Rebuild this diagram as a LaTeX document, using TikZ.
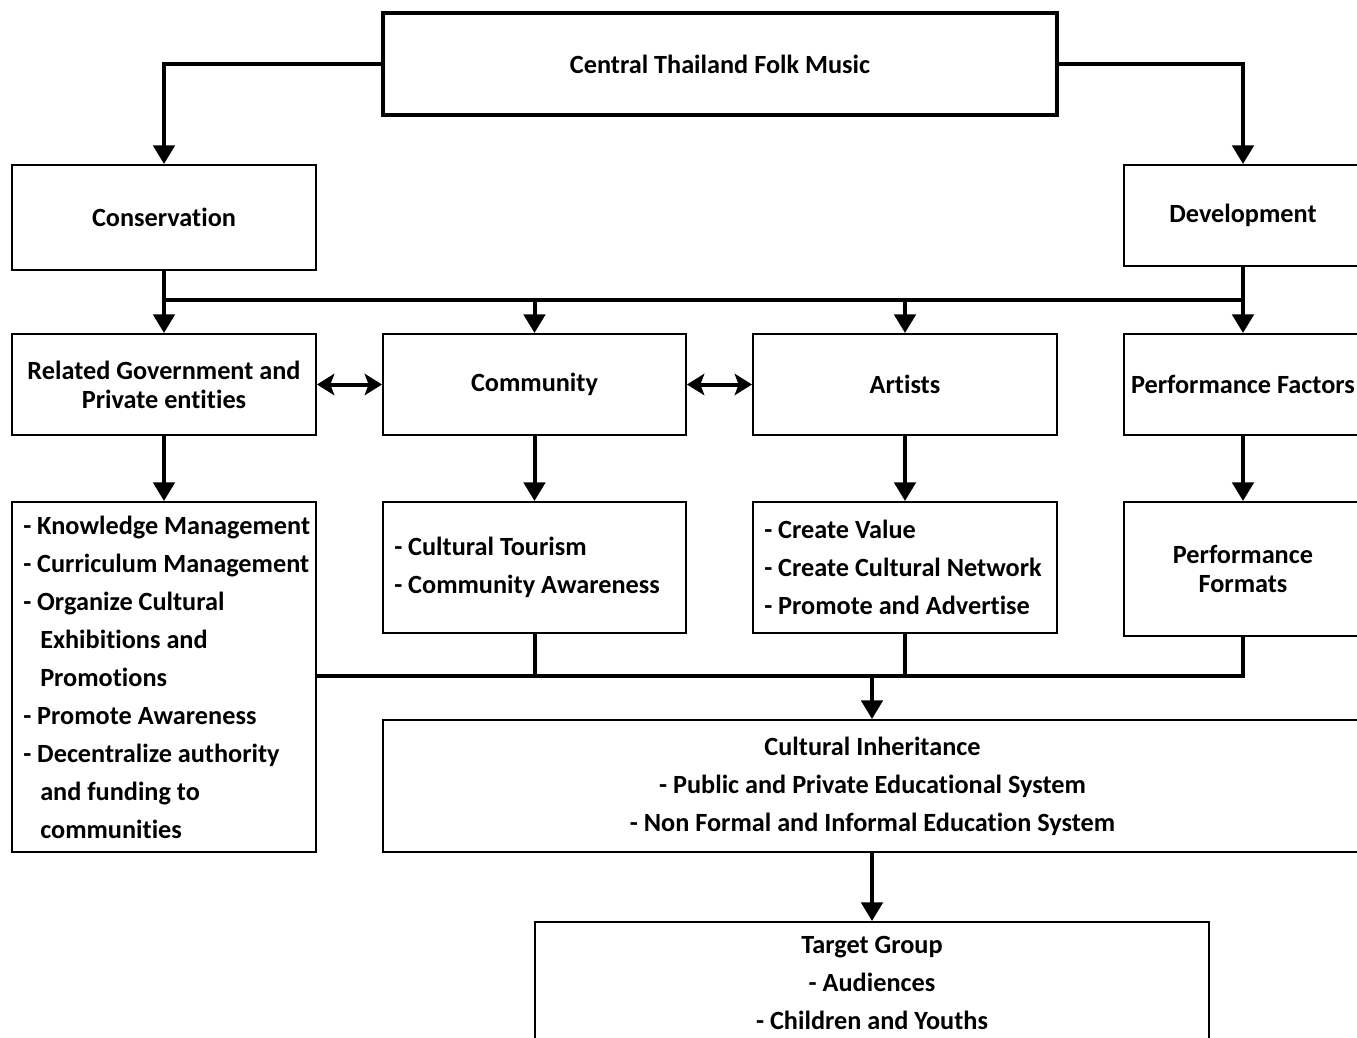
\documentclass[tikz,border=0pt]{standalone}
\usepackage{fontspec}
\setmainfont{Carlito}[Ligatures={NoCommon}]
\usetikzlibrary{arrows.meta}
\begin{document}
\begin{tikzpicture}[x=0.75pt,y=-0.75pt,
  box/.style={draw, line width=1.5pt, rectangle, inner sep=0pt, align=center,
    font=\fontsize{19.7pt}{21.75pt}\selectfont\bfseries},
  listtxt/.style={inner sep=0pt, align=left, anchor=west,
    font=\fontsize{19.7pt}{28.5pt}\selectfont\bfseries},
  ctrtxt/.style={inner sep=0pt, align=center,
    font=\fontsize{19.7pt}{28.5pt}\selectfont\bfseries},
  conn/.style={line width=3pt, line join=miter},
  arr/.style={conn, -{Triangle[width=16pt,length=14pt]}},
  darr/.style={conn, {Stealth[width=16pt,length=13pt,inset=3pt]}-{Stealth[width=16pt,length=13pt,inset=3pt]}},
]
\useasboundingbox (0,0) rectangle (1357,1038);

% boxes
\node[box, line width=3pt, minimum width=505.5pt, minimum height=76.5pt] (top) at (720,64) {Central Thailand Folk Music};
\node[box, minimum width=228pt, minimum height=78.75pt] (cons) at (164,217.5) {Conservation};
\node[box, minimum width=178.5pt, minimum height=75.75pt] (dev) at (1243,215.5) {Development};

\node[box, minimum width=228pt, minimum height=75.75pt] (gov) at (164,384.5) {Related Government and\\Private entities};
\node[box, minimum width=227.25pt, minimum height=75.75pt] (com) at (534.5,384.5) {Community};
\node[box, minimum width=228pt, minimum height=75.75pt] (art) at (905,384.5) {Artists};
\node[box, minimum width=178.5pt, minimum height=75.75pt] (perf) at (1243,384.5) {Performance Factors};

\node[box, minimum width=228pt, minimum height=262.5pt] (know) at (164,677) {};
\node[box, minimum width=227.25pt, minimum height=98.25pt] (tour) at (534.5,567.5) {};
\node[box, minimum width=228pt, minimum height=98.25pt] (val) at (905,567.5) {};
\node[box, minimum width=178.5pt, minimum height=100.5pt] (fmt) at (1243,569) {Performance\\Formats};

\node[box, minimum width=734.25pt, minimum height=99pt] (inh) at (872.5,786) {};
\node[box, minimum width=505.5pt, minimum height=91.5pt] (tgt) at (872,983) {};

% texts
\node[listtxt] (knowT) at ([xshift=9pt]know.west) {- Knowledge Management\\- Curriculum Management\\- Organize Cultural\\\hspace*{12.75pt}Exhibitions and\\\hspace*{12.75pt}Promotions\\- Promote Awareness\\- Decentralize authority\\\hspace*{12.75pt}and funding to\\\hspace*{12.75pt}communities};
\node[listtxt] (tourT) at ([xshift=9pt]tour.west) {- Cultural Tourism\\- Community Awareness};
\node[listtxt] (valT) at ([xshift=9pt]val.west) {- Create Value\\- Create Cultural Network\\- Promote and Advertise};
\node[ctrtxt] (inhT) at (inh.center) {Cultural Inheritance\\- Public and Private Educational System\\- Non Formal and Informal Education System};
\node[ctrtxt] (tgtT) at (872,983) {Target Group\\- Audiences\\- Children and Youths};

% connectors
\coordinate (bar) at (0,300);
\coordinate (bar2) at (0,676);
\draw[arr] (top.west) -| (cons.north);
\draw[arr] (top.east) -| (dev.north);
\draw[conn] (cons.south) |- (bar -| dev.south) -- (dev.south);
\draw[arr] (bar -| gov.north) -- (gov.north);
\draw[arr] (bar -| com.north) -- (com.north);
\draw[arr] (bar -| art.north) -- (art.north);
\draw[arr] (bar -| perf.north) -- (perf.north);

\draw[darr] (gov.east) -- (com.west);
\draw[darr] (com.east) -- (art.west);

\draw[arr] (gov.south) -- (know.north);
\draw[arr] (com.south) -- (tour.north);
\draw[arr] (art.south) -- (val.north);
\draw[arr] (perf.south) -- (fmt.north);

\draw[conn] (know.east |- bar2) -- (fmt.south |- bar2) -- (fmt.south);
\draw[conn] (tour.south) -- (tour.south |- bar2);
\draw[conn] (val.south) -- (val.south |- bar2);
\draw[arr] (bar2 -| tgt.north) -- (inh.north -| tgt.north);
\draw[arr] (inh.south -| tgt.north) -- (tgt.north);
\end{tikzpicture}
\end{document}
